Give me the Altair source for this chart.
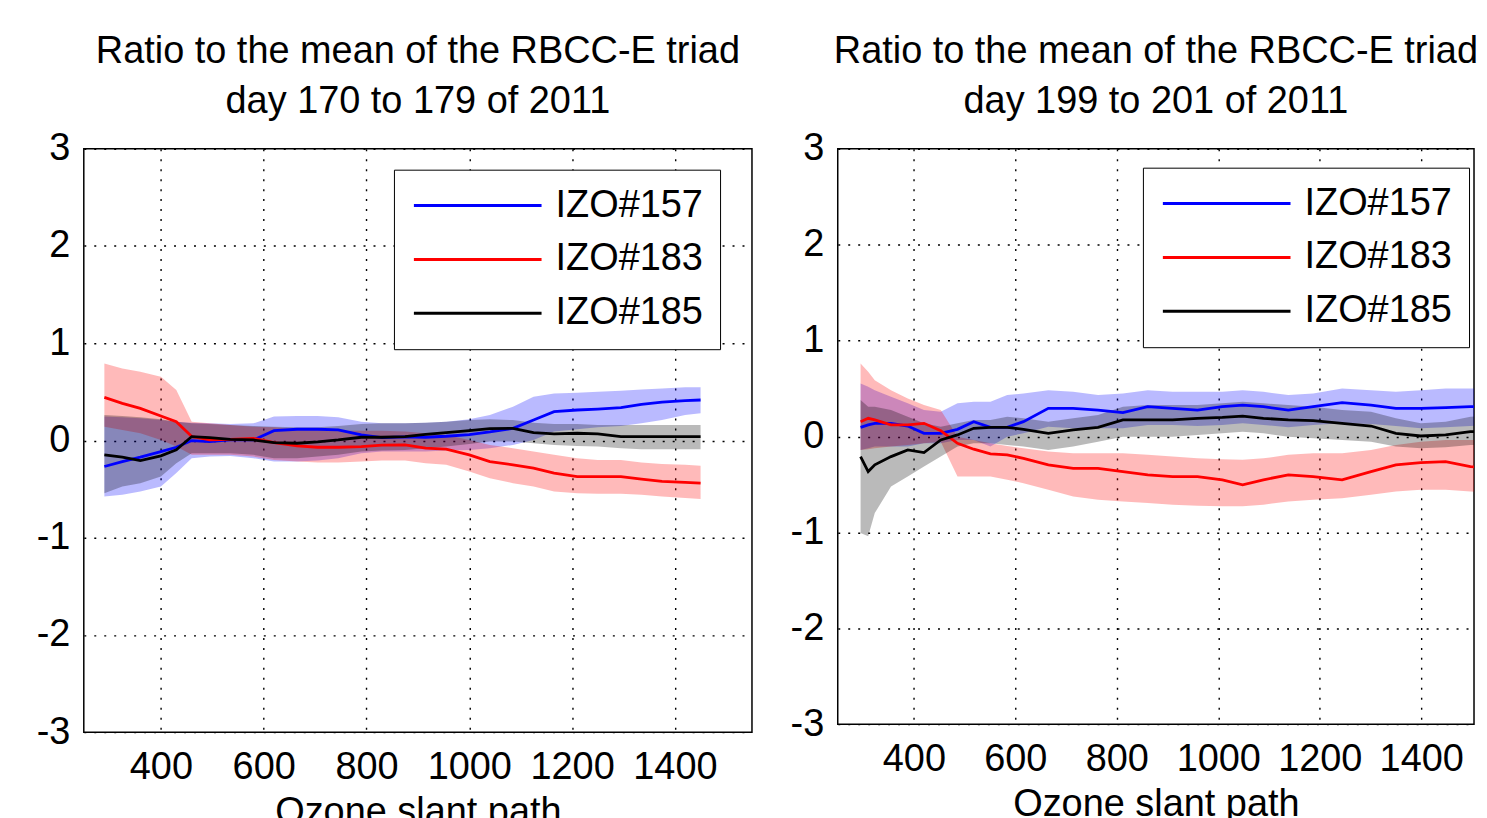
import altair as alt
import pandas as pd

SERIES = ["IZO#157", "IZO#183", "IZO#185"]
COLORS = ["#0000FF", "#FF0000", "#000000"]

# ---------------- left panel: day 170 to 179 of 2011 ----------------
x_left = [290, 325, 360, 400, 430, 460, 495, 535, 580, 620, 665, 705, 745, 790, 830,
          875, 915, 955, 1000, 1040, 1085, 1125, 1165, 1210, 1250, 1295, 1335, 1375, 1420, 1450]

blue_left = [-0.268, -0.217, -0.172, -0.114, -0.070, -0.001, -0.012, 0.005, 0.005, 0.101,
             0.115, 0.115, 0.108, 0.057, 0.029, 0.036, 0.033, 0.043, 0.060, 0.087,
             0.125, 0.210, 0.296, 0.313, 0.323, 0.337, 0.371, 0.395, 0.409, 0.416]
blue_left_hi = [0.245, 0.238, 0.228, 0.210, 0.193, 0.183, 0.176, 0.169, 0.176, 0.245,
                0.251, 0.251, 0.238, 0.193, 0.176, 0.176, 0.183, 0.193, 0.217, 0.262,
                0.347, 0.450, 0.484, 0.491, 0.501, 0.511, 0.525, 0.535, 0.546, 0.546]
blue_left_lo = [-0.576, -0.559, -0.525, -0.473, -0.336, -0.183, -0.166, -0.159, -0.183, -0.217,
                -0.217, -0.207, -0.183, -0.131, -0.114, -0.114, -0.114, -0.104, -0.097, -0.080,
                -0.046, 0.005, 0.091, 0.115, 0.135, 0.149, 0.176, 0.210, 0.262, 0.279]

red_left = [0.443, 0.381, 0.330, 0.251, 0.193, 0.040, 0.005, 0.012, 0.022, -0.022,
            -0.056, -0.070, -0.070, -0.063, -0.049, -0.046, -0.080, -0.090, -0.148, -0.217,
            -0.251, -0.285, -0.336, -0.371, -0.371, -0.371, -0.398, -0.422, -0.432, -0.439]
red_left_hi = [0.792, 0.740, 0.706, 0.655, 0.518, 0.193, 0.176, 0.159, 0.142, 0.135,
               0.115, 0.108, 0.101, 0.101, 0.101, 0.091, 0.074, 0.057, 0.005, -0.046,
               -0.080, -0.114, -0.148, -0.183, -0.200, -0.200, -0.227, -0.241, -0.251, -0.261]
red_left_lo = [0.142, 0.108, 0.074, 0.005, -0.063, -0.148, -0.148, -0.148, -0.166, -0.200,
               -0.217, -0.227, -0.227, -0.217, -0.207, -0.207, -0.234, -0.251, -0.319, -0.388,
               -0.439, -0.473, -0.525, -0.542, -0.549, -0.549, -0.559, -0.576, -0.593, -0.603]

black_left = [-0.148, -0.172, -0.207, -0.159, -0.097, 0.040, 0.029, 0.012, 0.005, -0.022,
              -0.029, -0.015, 0.005, 0.033, 0.033, 0.040, 0.063, 0.081, 0.101, 0.122,
              0.125, 0.081, 0.067, 0.074, 0.067, 0.040, 0.040, 0.040, 0.040, 0.040]
black_left_hi = [0.262, 0.251, 0.238, 0.217, 0.193, 0.176, 0.169, 0.159, 0.149, 0.142,
                 0.135, 0.135, 0.149, 0.169, 0.176, 0.176, 0.183, 0.193, 0.210, 0.217,
                 0.210, 0.183, 0.169, 0.169, 0.159, 0.159, 0.159, 0.159, 0.159, 0.159]
black_left_lo = [-0.542, -0.473, -0.439, -0.371, -0.234, -0.131, -0.131, -0.131, -0.148, -0.183,
                 -0.183, -0.166, -0.148, -0.114, -0.104, -0.097, -0.080, -0.063, -0.036, -0.012,
                 -0.012, -0.029, -0.046, -0.056, -0.063, -0.080, -0.090, -0.090, -0.090, -0.090]

# ---------------- right panel: day 199 to 201 of 2011 ----------------
x_right = [295, 310, 323, 355, 388, 420, 453, 486, 518, 551, 584, 616, 665, 714, 763, 812,
           861, 910, 959, 1008, 1048, 1089, 1138, 1187, 1244, 1301, 1350, 1399, 1448, 1497, 1546]

blue_right = [0.095, 0.120, 0.137, 0.137, 0.109, 0.033, 0.033, 0.074, 0.154, 0.095, 0.095,
              0.154, 0.293, 0.293, 0.275, 0.248, 0.310, 0.293, 0.275, 0.310, 0.327,
              0.310, 0.275, 0.310, 0.352, 0.327, 0.293, 0.293, 0.300, 0.310, 0.310]
blue_right_hi = [0.552, 0.518, 0.483, 0.414, 0.345, 0.275, 0.258, 0.345, 0.362, 0.362, 0.431,
                 0.449, 0.483, 0.466, 0.431, 0.449, 0.483, 0.466, 0.466, 0.466, 0.483,
                 0.466, 0.431, 0.449, 0.501, 0.483, 0.466, 0.483, 0.501, 0.501, 0.501]
blue_right_lo = [-0.140, -0.123, -0.106, -0.106, -0.106, -0.071, -0.071, -0.036, -0.036, -0.106, -0.002,
                 0.033, 0.102, 0.085, 0.085, 0.085, 0.120, 0.120, 0.109, 0.120, 0.137,
                 0.120, 0.095, 0.120, 0.137, 0.130, 0.109, 0.085, 0.095, 0.109, 0.120]

red_right = [0.154, 0.189, 0.172, 0.120, 0.120, 0.137, 0.061, -0.071, -0.133, -0.182, -0.192,
             -0.228, -0.297, -0.332, -0.332, -0.366, -0.400, -0.418, -0.418, -0.452, -0.504,
             -0.452, -0.400, -0.418, -0.452, -0.366, -0.297, -0.272, -0.262, -0.314, -0.332]
red_right_hi = [0.761, 0.674, 0.587, 0.483, 0.397, 0.328, 0.275, -0.002, -0.036, -0.071, -0.099,
                -0.123, -0.158, -0.175, -0.175, -0.175, -0.192, -0.210, -0.228, -0.237, -0.244,
                -0.228, -0.192, -0.175, -0.175, -0.140, -0.088, -0.054, -0.036, -0.036, -0.036]
red_right_lo = [-0.140, -0.133, -0.123, -0.106, -0.088, -0.071, -0.054, -0.418, -0.418, -0.418, -0.452,
                -0.487, -0.556, -0.625, -0.660, -0.677, -0.695, -0.712, -0.722, -0.729, -0.729,
                -0.712, -0.677, -0.660, -0.643, -0.608, -0.573, -0.556, -0.556, -0.573, -0.591]

black_right = [-0.210, -0.366, -0.296, -0.210, -0.140, -0.168, -0.036, 0.016, 0.085, 0.095, 0.095,
               0.074, 0.033, 0.068, 0.095, 0.172, 0.172, 0.172, 0.189, 0.199, 0.213,
               0.189, 0.172, 0.165, 0.137, 0.109, 0.033, 0.005, 0.016, 0.050, 0.050]
black_right_hi = [0.379, 0.310, 0.310, 0.275, 0.206, 0.137, 0.102, 0.137, 0.172, 0.172, 0.206,
                  0.189, 0.154, 0.189, 0.223, 0.310, 0.327, 0.327, 0.327, 0.345, 0.362,
                  0.345, 0.327, 0.310, 0.275, 0.258, 0.189, 0.137, 0.154, 0.206, 0.223]
black_right_lo = [-1.007, -1.041, -0.799, -0.521, -0.418, -0.314, -0.210, -0.106, -0.071, -0.071, -0.088,
                  -0.106, -0.140, -0.106, -0.054, -0.002, -0.002, -0.002, 0.016, 0.033, 0.050,
                  0.033, -0.002, -0.019, -0.036, -0.054, -0.106, -0.123, -0.113, -0.088, -0.088]

X_TICKS = [400, 600, 800, 1000, 1200, 1400]
Y_TICKS = [-3, -2, -1, 0, 1, 2, 3]
TITLE_L1 = "Ratio to the mean of the RBCC-E triad"
TITLE_LEFT = "day 170 to 179 of 2011"
TITLE_RIGHT = "day 199 to 201 of 2011"
X_TITLE = "Ozone slant path"

FONT = "Liberation Sans"
FS = 38


def frame(x, groups):
    rows = []
    for name, (m, lo, hi) in zip(SERIES, groups):
        for xi, mi, l, h in zip(x, m, lo, hi):
            rows.append({"x": xi, "series": name, "mean": mi, "lo": l, "hi": h})
    return pd.DataFrame(rows)


def panel(df, subtitle, w, h, xmax, lx, ly):
    xs = alt.X("x:Q", scale=alt.Scale(domain=[250, xmax], nice=False, zero=False),
               axis=alt.Axis(values=X_TICKS, title=X_TITLE, labelExpr="'' + datum.value"))
    ys = alt.Y("lo:Q", scale=alt.Scale(domain=[-3, 3], nice=False), stack=None,
               axis=alt.Axis(values=Y_TICKS, title=None, labelExpr="'' + datum.value"))
    cscale = alt.Scale(domain=SERIES, range=COLORS)
    band = alt.Chart(df).mark_area(fillOpacity=0.27, clip=True).encode(
        x=xs, y=ys, y2="hi:Q",
        color=alt.Color("series:N", scale=cscale),
    )
    line = alt.Chart(df).mark_line(strokeWidth=2.8, clip=True).encode(
        x=xs,
        y=alt.Y("mean:Q", scale=alt.Scale(domain=[-3, 3], nice=False)),
        color=alt.Color(
            "series:N", scale=cscale,
            legend=alt.Legend(
                title=None, orient="none", legendX=lx, legendY=ly,
                symbolType="M-4,0H4", symbolSize=1024, symbolStrokeWidth=3,
                symbolOpacity=1, symbolOffset=48, labelOffset=59,
                labelFontSize=FS, labelFont=FONT, labelColor="black", labelLimit=300,
                strokeColor="black", fillColor="white", padding=17, rowPadding=16,
            ),
        ),
    )
    return alt.layer(band, line).properties(
        width=w, height=h,
        title=alt.TitleParams(text=[TITLE_L1, subtitle], fontSize=FS, font=FONT,
                              fontWeight="normal", lineHeight=50, offset=9,
                              anchor="middle", color="black"),
    )


left = panel(frame(x_left, [(blue_left, blue_left_lo, blue_left_hi),
                            (red_left, red_left_lo, red_left_hi),
                            (black_left, black_left_lo, black_left_hi)]),
             TITLE_LEFT, 670, 585, 1550, 311, 21)
right = panel(frame(x_right, [(blue_right, blue_right_lo, blue_right_hi),
                              (red_right, red_right_lo, red_right_hi),
                              (black_right, black_right_lo, black_right_hi)]),
              TITLE_RIGHT, 638, 577, 1504, 306, 19)

chart = alt.hconcat(left, right, spacing=36).resolve_scale(
    color="independent"
).resolve_legend(color="independent").properties(
    padding={"left": 27, "top": 23, "right": 0, "bottom": 0}
).configure(font=FONT).configure_view(
    stroke="black", strokeWidth=1.5
).configure_axis(
    labelFont=FONT, labelFontSize=FS, labelColor="black",
    titleFont=FONT, titleFontSize=FS, titleFontWeight="normal", titleColor="black",
    grid=True, gridColor="black", gridDash=[2, 8], gridWidth=1.4, gridOpacity=1,
    domain=False, ticks=False,
).configure_axisX(labelPadding=16, titlePadding=8).configure_axisY(labelPadding=14)

chart.save("out.html", embed_options={"renderer": "svg", "actions": False})
